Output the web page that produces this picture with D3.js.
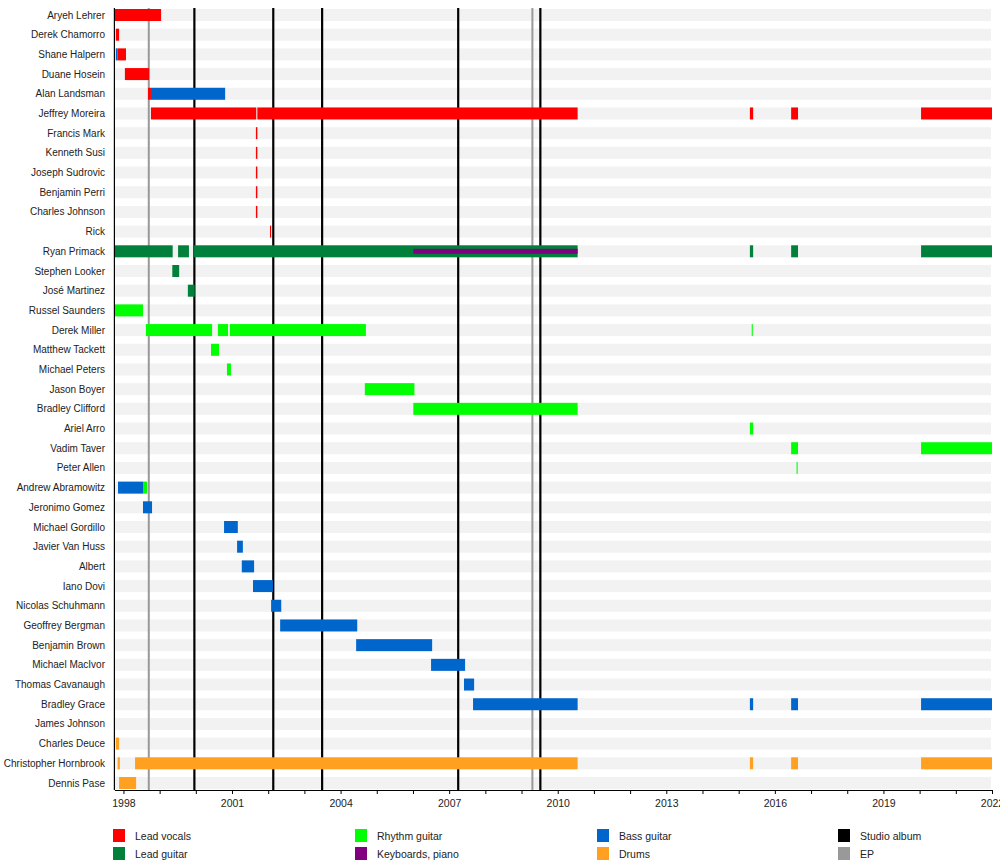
<!DOCTYPE html>
<html>
<head>
<meta charset="utf-8">
<script src="https://cdn.jsdelivr.net/npm/d3@7"></script>
<style>
	body { margin: 0; background: #fff; }
	svg { display: block; font-family: "Liberation Sans", Arial, sans-serif; }
</style>
</head>
<body>
<svg id="timeline" width="1000" height="868"></svg>
<script>
const members = [
	"Aryeh Lehrer", "Derek Chamorro", "Shane Halpern", "Duane Hosein", "Alan Landsman",
	"Jeffrey Moreira", "Francis Mark", "Kenneth Susi", "Joseph Sudrovic", "Benjamin Perri",
	"Charles Johnson", "Rick", "Ryan Primack", "Stephen Looker", "José Martinez",
	"Russel Saunders", "Derek Miller", "Matthew Tackett", "Michael Peters", "Jason Boyer",
	"Bradley Clifford", "Ariel Arro", "Vadim Taver", "Peter Allen", "Andrew Abramowitz",
	"Jeronimo Gomez", "Michael Gordillo", "Javier Van Huss", "Albert", "Iano Dovi",
	"Nicolas Schuhmann", "Geoffrey Bergman", "Benjamin Brown", "Michael MacIvor", "Thomas Cavanaugh",
	"Bradley Grace", "James Johnson", "Charles Deuce", "Christopher Hornbrook", "Dennis Pase"
];

const roles = ["Lead vocals", "Lead guitar", "Rhythm guitar", "Keyboards, piano", "Bass guitar", "Drums"];
const roleColors = ["#ff0000", "#00803a", "#00ff00", "#800080", "#0066cc", "#ffa020"];

// [member, role, start, end] in decimal years
const periods = [
	["Aryeh Lehrer", "Lead vocals", 1997.75, 1999.04],
	["Derek Chamorro", "Lead vocals", 1997.79, 1997.88],
	["Shane Halpern", "Bass guitar", 1997.79, 1997.84],
	["Shane Halpern", "Lead vocals", 1997.84, 1998.07],
	["Duane Hosein", "Lead vocals", 1998.04, 1998.71],
	["Alan Landsman", "Lead vocals", 1998.68, 1998.76],
	["Alan Landsman", "Bass guitar", 1998.76, 2000.81],
	["Jeffrey Moreira", "Lead vocals", 1998.76, 2001.67],
	["Jeffrey Moreira", "Lead vocals", 2001.70, 2010.55],
	["Jeffrey Moreira", "Lead vocals", 2015.31, 2015.40],
	["Jeffrey Moreira", "Lead vocals", 2016.45, 2016.64],
	["Jeffrey Moreira", "Lead vocals", 2020.04, 2022],
	["Francis Mark", "Lead vocals", 2001.66, 2001.70],
	["Kenneth Susi", "Lead vocals", 2001.66, 2001.70],
	["Joseph Sudrovic", "Lead vocals", 2001.66, 2001.70],
	["Benjamin Perri", "Lead vocals", 2001.66, 2001.70],
	["Charles Johnson", "Lead vocals", 2001.66, 2001.70],
	["Rick", "Lead vocals", 2002.05, 2002.08],
	["Ryan Primack", "Lead guitar", 1997.75, 1999.36],
	["Ryan Primack", "Lead guitar", 1999.51, 1999.81],
	["Ryan Primack", "Lead guitar", 1999.95, 2010.55],
	["Ryan Primack", "Lead guitar", 2015.31, 2015.40],
	["Ryan Primack", "Lead guitar", 2016.45, 2016.64],
	["Ryan Primack", "Lead guitar", 2020.04, 2022],
	["Stephen Looker", "Lead guitar", 1999.35, 1999.54],
	["José Martinez", "Lead guitar", 1999.78, 1999.97],
	["Russel Saunders", "Rhythm guitar", 1997.75, 1998.54],
	["Derek Miller", "Rhythm guitar", 1998.62, 2000.45],
	["Derek Miller", "Rhythm guitar", 2000.61, 2000.89],
	["Derek Miller", "Rhythm guitar", 2000.94, 2004.70],
	["Derek Miller", "Rhythm guitar", 2015.36, 2015.39],
	["Matthew Tackett", "Rhythm guitar", 2000.42, 2000.64],
	["Michael Peters", "Rhythm guitar", 2000.86, 2000.97],
	["Jason Boyer", "Rhythm guitar", 2004.67, 2006.04],
	["Bradley Clifford", "Rhythm guitar", 2006.01, 2010.55],
	["Ariel Arro", "Rhythm guitar", 2015.31, 2015.40],
	["Vadim Taver", "Rhythm guitar", 2016.45, 2016.64],
	["Vadim Taver", "Rhythm guitar", 2020.04, 2022],
	["Peter Allen", "Rhythm guitar", 2016.60, 2016.63],
	["Andrew Abramowitz", "Bass guitar", 1997.85, 1998.54],
	["Andrew Abramowitz", "Rhythm guitar", 1998.54, 1998.65],
	["Jeronimo Gomez", "Bass guitar", 1998.54, 1998.79],
	["Michael Gordillo", "Bass guitar", 2000.78, 2001.16],
	["Javier Van Huss", "Bass guitar", 2001.14, 2001.30],
	["Albert", "Bass guitar", 2001.27, 2001.61],
	["Iano Dovi", "Bass guitar", 2001.58, 2002.13],
	["Nicolas Schuhmann", "Bass guitar", 2002.08, 2002.36],
	["Geoffrey Bergman", "Bass guitar", 2002.33, 2004.46],
	["Benjamin Brown", "Bass guitar", 2004.43, 2006.53],
	["Michael MacIvor", "Bass guitar", 2006.50, 2007.44],
	["Thomas Cavanaugh", "Bass guitar", 2007.41, 2007.69],
	["Bradley Grace", "Bass guitar", 2007.66, 2010.55],
	["Bradley Grace", "Bass guitar", 2015.31, 2015.40],
	["Bradley Grace", "Bass guitar", 2016.45, 2016.64],
	["Bradley Grace", "Bass guitar", 2020.04, 2022],
	["Charles Deuce", "Drums", 1997.79, 1997.88],
	["Christopher Hornbrook", "Drums", 1997.84, 1997.90],
	["Christopher Hornbrook", "Drums", 1998.32, 2010.55],
	["Christopher Hornbrook", "Drums", 2015.31, 2015.40],
	["Christopher Hornbrook", "Drums", 2016.45, 2016.64],
	["Christopher Hornbrook", "Drums", 2020.04, 2022],
	["Dennis Pase", "Drums", 1997.88, 1998.35]
];

// secondary role drawn as a thin band inside the main bar
const secondary = [
	["Ryan Primack", "Keyboards, piano", 2006.01, 2010.55]
];

const studioAlbums = [1999.96, 2002.14, 2003.49, 2007.25, 2009.52];
const eps = [1998.70, 2009.30];
const tickYears = d3.range(1998, 2023);
const labelYears = [1998, 2001, 2004, 2007, 2010, 2013, 2016, 2019, 2022];

const legendItems = [
	["Lead vocals", "#ff0000"], ["Lead guitar", "#00803a"],
	["Rhythm guitar", "#00ff00"], ["Keyboards, piano", "#800080"],
	["Bass guitar", "#0066cc"], ["Drums", "#ffa020"],
	["Studio album", "#000000"], ["EP", "#999999"]
];

const svg = d3.select("svg#timeline");
const plotLeft = 114.4;
const plotRight = 992;
const plotTop = 8;
const plotBottom = 790;
const barHeight = 12;

const x = d3.scaleLinear([1997.75, 2022], [plotLeft, plotRight]);
const y = d3.scalePoint(members, [15, 783]);
const color = d3.scaleOrdinal(roles, roleColors);

// background stripes
svg.append("g")
	.selectAll("rect")
	.data(members)
	.join("rect")
	.attr("x", plotLeft)
	.attr("y", (d) => y(d) - barHeight / 2)
	.attr("width", plotRight - 1 - plotLeft)
	.attr("height", barHeight)
	.attr("fill", "#f2f2f2");

// release lines
const lines = svg.append("g");
lines.selectAll(".ep")
	.data(eps)
	.join("line")
	.attr("class", "ep")
	.attr("x1", (d) => x(d))
	.attr("x2", (d) => x(d))
	.attr("y1", plotTop)
	.attr("y2", plotBottom)
	.attr("stroke", "#999")
	.attr("stroke-width", 2);
lines.selectAll(".album")
	.data(studioAlbums)
	.join("line")
	.attr("class", "album")
	.attr("x1", (d) => x(d))
	.attr("x2", (d) => x(d))
	.attr("y1", plotTop)
	.attr("y2", plotBottom)
	.attr("stroke", "#000")
	.attr("stroke-width", 2.2);

// member bars
svg.append("g")
	.selectAll("rect")
	.data(periods)
	.join("rect")
	.attr("x", (d) => x(d[2]))
	.attr("y", (d) => y(d[0]) - barHeight / 2)
	.attr("width", (d) => Math.max(1, x(d[3]) - x(d[2])))
	.attr("height", barHeight)
	.attr("fill", (d) => color(d[1]));

svg.append("g")
	.selectAll("rect")
	.data(secondary)
	.join("rect")
	.attr("x", (d) => x(d[2]))
	.attr("y", (d) => y(d[0]) - 2.5)
	.attr("width", (d) => x(d[3]) - x(d[2]))
	.attr("height", 5)
	.attr("fill", (d) => color(d[1]));

// names
svg.append("g")
	.selectAll("text")
	.data(members)
	.join("text")
	.attr("x", 105)
	.attr("y", (d) => y(d))
	.attr("dy", "0.35em")
	.attr("text-anchor", "end")
	.attr("font-size", 10)
	.attr("fill", "#222")
	.text((d) => d);

// left edge
svg.append("line")
	.attr("x1", plotLeft)
	.attr("x2", plotLeft)
	.attr("y1", plotTop)
	.attr("y2", plotBottom)
	.attr("stroke", "#000")
	.attr("stroke-width", 1.2);

// time axis
svg.append("g")
	.attr("transform", `translate(0,${plotBottom})`)
	.call(
		d3.axisBottom(x)
			.tickValues(tickYears)
			.tickSize(4)
			.tickSizeOuter(0)
			.tickFormat((d) => (labelYears.includes(d) ? d : ""))
	)
	.call((g) => g.select(".domain").attr("stroke-width", 1.2))
	.call((g) => g.selectAll("text")
		.attr("font-size", 10.5)
		.attr("font-family", "Liberation Sans, Arial, sans-serif")
		.attr("fill", "#222")
		.attr("dy", "0.95em"));

// legend
const legend = svg.append("g")
	.selectAll("g")
	.data(legendItems)
	.join("g")
	.attr("transform", (d, i) => `translate(${[113, 355, 597, 838][Math.floor(i / 2)]},${i % 2 ? 847 : 829})`);
legend.append("rect")
	.attr("width", 12)
	.attr("height", 13)
	.attr("fill", (d) => d[1]);
legend.append("text")
	.attr("x", 22)
	.attr("y", 7)
	.attr("dy", "0.35em")
	.attr("font-size", 10.5)
	.attr("fill", "#222")
	.text((d) => d[0]);
</script>
</body>
</html>
